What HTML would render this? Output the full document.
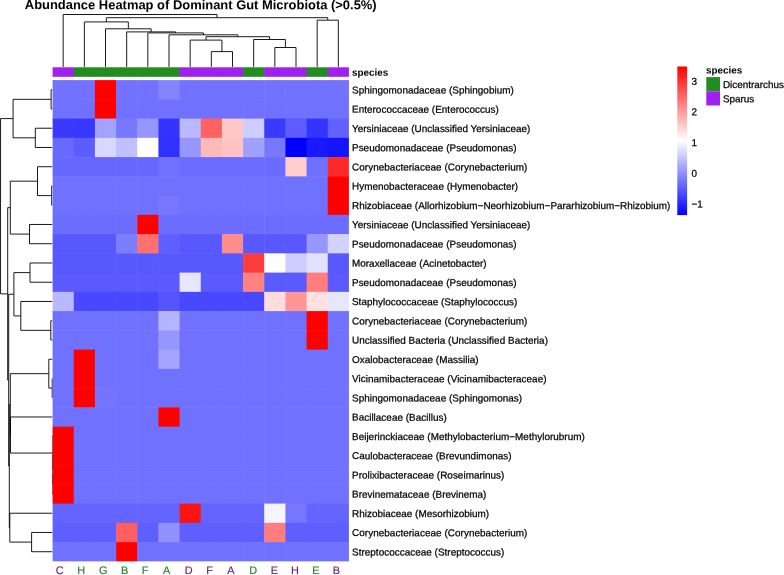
<!DOCTYPE html><html><head><meta charset="utf-8"><title>Heatmap</title>
<style>html,body{margin:0;padding:0;background:#fff}body{width:784px;height:575px;overflow:hidden;position:relative;font-family:"Liberation Sans",sans-serif}svg{position:absolute;left:0;top:0;will-change:transform}text{font-family:"Liberation Sans",sans-serif;text-rendering:geometricPrecision}</style></head><body>
<svg width="784" height="575" viewBox="0 0 784 575">
<defs><linearGradient id="cb" x1="0" y1="1" x2="0" y2="0"><stop offset="0" stop-color="rgb(0,0,255)"/><stop offset="0.5" stop-color="rgb(255,255,255)"/><stop offset="1" stop-color="rgb(255,0,0)"/></linearGradient></defs>
<text transform="translate(24.8,9.1) rotate(0.03)" font-size="12.95" font-weight="bold" fill="#000">Abundance Heatmap of Dominant Gut Microbiota (&gt;0.5%)</text>
<path d="M211.34 66.90V51.60H232.50V66.90M190.17 66.90V40.10H221.92V51.60M274.83 66.90V47.50H296.00V66.90M253.67 66.90V39.50H285.41V47.50M206.05 40.10V36.70H269.54V39.50M169.01 66.90V34.80H237.79V36.70M147.84 66.90V32.90H203.40V34.80M126.68 66.90V31.90H175.62V32.90M105.51 66.90V28.80H151.15V31.90M84.35 66.90V21.90H128.33V28.80M317.16 66.90V20.20H338.33V66.90M106.34 21.90V17.70H327.75V20.20M63.18 66.90V14.50H217.04V17.70" fill="none" stroke="#000" stroke-width="0.9"/>
<path d="M52.30 89.72H51.10V108.97H52.30M52.30 128.22H35.30V147.47H52.30M51.10 99.35H13.10V137.85H35.30M52.30 185.97H51.70V205.22H52.30M52.30 166.72H37.50V195.60H51.70M52.30 224.47H29.50V243.72H52.30M37.50 181.16H10.30V234.10H29.50M52.30 262.98H30.00V282.23H52.30M52.30 320.73H50.80V339.98H52.30M52.30 301.48H20.80V330.35H50.80M30.00 272.60H13.90V315.91H20.80M52.30 378.48H52.20V397.73H52.30M52.30 359.23H48.80V388.10H52.20M52.30 474.73H53.00V493.98H52.30M52.30 455.48H53.00V484.35H53.00M52.30 436.23H53.00V469.91H53.00M52.30 416.98H10.50V453.07H53.00M48.80 373.66H10.30V435.02H10.50M52.30 532.48H31.60V551.73H52.30M52.30 513.23H9.80V542.10H31.60M10.30 404.34H9.30V527.66H9.80M13.90 294.26H8.70V466.00H9.30M10.30 207.63H7.70V380.13H8.70M13.10 118.60H0.55V293.88H7.70" fill="none" stroke="#000" stroke-width="0.9"/>
<rect x="52.60" y="67.3" width="21.66" height="9.50" fill="rgb(160,32,240)"/>
<rect x="73.77" y="67.3" width="21.66" height="9.50" fill="rgb(34,139,34)"/>
<rect x="94.93" y="67.3" width="21.66" height="9.50" fill="rgb(34,139,34)"/>
<rect x="116.09" y="67.3" width="21.66" height="9.50" fill="rgb(34,139,34)"/>
<rect x="137.26" y="67.3" width="21.66" height="9.50" fill="rgb(34,139,34)"/>
<rect x="158.42" y="67.3" width="21.66" height="9.50" fill="rgb(34,139,34)"/>
<rect x="179.59" y="67.3" width="21.66" height="9.50" fill="rgb(160,32,240)"/>
<rect x="200.75" y="67.3" width="21.66" height="9.50" fill="rgb(160,32,240)"/>
<rect x="221.92" y="67.3" width="21.66" height="9.50" fill="rgb(160,32,240)"/>
<rect x="243.08" y="67.3" width="21.66" height="9.50" fill="rgb(34,139,34)"/>
<rect x="264.25" y="67.3" width="21.66" height="9.50" fill="rgb(160,32,240)"/>
<rect x="285.42" y="67.3" width="21.66" height="9.50" fill="rgb(160,32,240)"/>
<rect x="306.58" y="67.3" width="21.66" height="9.50" fill="rgb(34,139,34)"/>
<rect x="327.75" y="67.3" width="21.16" height="9.50" fill="rgb(160,32,240)"/>
<text transform="translate(352.1,75.8) rotate(0.03)" font-size="9.9" font-weight="bold" fill="#000">species</text>
<rect x="52.60" y="80.10" width="21.66" height="19.75" fill="rgb(114,114,255)"/>
<rect x="73.77" y="80.10" width="21.66" height="19.75" fill="rgb(114,114,255)"/>
<rect x="94.93" y="80.10" width="21.66" height="19.75" fill="rgb(255,0,0)"/>
<rect x="116.09" y="80.10" width="21.66" height="19.75" fill="rgb(114,114,255)"/>
<rect x="137.26" y="80.10" width="21.66" height="19.75" fill="rgb(114,114,255)"/>
<rect x="158.42" y="80.10" width="21.66" height="19.75" fill="rgb(132,132,255)"/>
<rect x="179.59" y="80.10" width="21.66" height="19.75" fill="rgb(114,114,255)"/>
<rect x="200.75" y="80.10" width="21.66" height="19.75" fill="rgb(114,114,255)"/>
<rect x="221.92" y="80.10" width="21.66" height="19.75" fill="rgb(114,114,255)"/>
<rect x="243.08" y="80.10" width="21.66" height="19.75" fill="rgb(114,114,255)"/>
<rect x="264.25" y="80.10" width="21.66" height="19.75" fill="rgb(114,114,255)"/>
<rect x="285.42" y="80.10" width="21.66" height="19.75" fill="rgb(114,114,255)"/>
<rect x="306.58" y="80.10" width="21.66" height="19.75" fill="rgb(114,114,255)"/>
<rect x="327.75" y="80.10" width="21.16" height="19.75" fill="rgb(114,114,255)"/>
<rect x="52.60" y="99.35" width="21.66" height="19.75" fill="rgb(113,113,255)"/>
<rect x="73.77" y="99.35" width="21.66" height="19.75" fill="rgb(113,113,255)"/>
<rect x="94.93" y="99.35" width="21.66" height="19.75" fill="rgb(255,0,0)"/>
<rect x="116.09" y="99.35" width="21.66" height="19.75" fill="rgb(113,113,255)"/>
<rect x="137.26" y="99.35" width="21.66" height="19.75" fill="rgb(113,113,255)"/>
<rect x="158.42" y="99.35" width="21.66" height="19.75" fill="rgb(113,113,255)"/>
<rect x="179.59" y="99.35" width="21.66" height="19.75" fill="rgb(113,113,255)"/>
<rect x="200.75" y="99.35" width="21.66" height="19.75" fill="rgb(113,113,255)"/>
<rect x="221.92" y="99.35" width="21.66" height="19.75" fill="rgb(113,113,255)"/>
<rect x="243.08" y="99.35" width="21.66" height="19.75" fill="rgb(113,113,255)"/>
<rect x="264.25" y="99.35" width="21.66" height="19.75" fill="rgb(113,113,255)"/>
<rect x="285.42" y="99.35" width="21.66" height="19.75" fill="rgb(113,113,255)"/>
<rect x="306.58" y="99.35" width="21.66" height="19.75" fill="rgb(113,113,255)"/>
<rect x="327.75" y="99.35" width="21.16" height="19.75" fill="rgb(113,113,255)"/>
<rect x="52.60" y="118.60" width="21.66" height="19.75" fill="rgb(58,58,255)"/>
<rect x="73.77" y="118.60" width="21.66" height="19.75" fill="rgb(55,55,255)"/>
<rect x="94.93" y="118.60" width="21.66" height="19.75" fill="rgb(162,162,255)"/>
<rect x="116.09" y="118.60" width="21.66" height="19.75" fill="rgb(120,120,255)"/>
<rect x="137.26" y="118.60" width="21.66" height="19.75" fill="rgb(150,150,255)"/>
<rect x="158.42" y="118.60" width="21.66" height="19.75" fill="rgb(52,52,255)"/>
<rect x="179.59" y="118.60" width="21.66" height="19.75" fill="rgb(185,185,255)"/>
<rect x="200.75" y="118.60" width="21.66" height="19.75" fill="rgb(255,98,98)"/>
<rect x="221.92" y="118.60" width="21.66" height="19.75" fill="rgb(255,200,200)"/>
<rect x="243.08" y="118.60" width="21.66" height="19.75" fill="rgb(205,205,255)"/>
<rect x="264.25" y="118.60" width="21.66" height="19.75" fill="rgb(58,58,255)"/>
<rect x="285.42" y="118.60" width="21.66" height="19.75" fill="rgb(92,92,255)"/>
<rect x="306.58" y="118.60" width="21.66" height="19.75" fill="rgb(52,52,255)"/>
<rect x="327.75" y="118.60" width="21.16" height="19.75" fill="rgb(97,97,255)"/>
<rect x="52.60" y="137.85" width="21.66" height="19.75" fill="rgb(105,105,255)"/>
<rect x="73.77" y="137.85" width="21.66" height="19.75" fill="rgb(93,93,255)"/>
<rect x="94.93" y="137.85" width="21.66" height="19.75" fill="rgb(216,216,255)"/>
<rect x="116.09" y="137.85" width="21.66" height="19.75" fill="rgb(192,192,255)"/>
<rect x="137.26" y="137.85" width="21.66" height="19.75" fill="rgb(255,255,255)"/>
<rect x="158.42" y="137.85" width="21.66" height="19.75" fill="rgb(48,48,255)"/>
<rect x="179.59" y="137.85" width="21.66" height="19.75" fill="rgb(150,150,255)"/>
<rect x="200.75" y="137.85" width="21.66" height="19.75" fill="rgb(255,185,185)"/>
<rect x="221.92" y="137.85" width="21.66" height="19.75" fill="rgb(255,195,195)"/>
<rect x="243.08" y="137.85" width="21.66" height="19.75" fill="rgb(160,160,255)"/>
<rect x="264.25" y="137.85" width="21.66" height="19.75" fill="rgb(120,120,255)"/>
<rect x="285.42" y="137.85" width="21.66" height="19.75" fill="rgb(0,0,255)"/>
<rect x="306.58" y="137.85" width="21.66" height="19.75" fill="rgb(25,25,255)"/>
<rect x="327.75" y="137.85" width="21.16" height="19.75" fill="rgb(20,20,255)"/>
<rect x="52.60" y="157.10" width="21.66" height="19.75" fill="rgb(103,103,255)"/>
<rect x="73.77" y="157.10" width="21.66" height="19.75" fill="rgb(103,103,255)"/>
<rect x="94.93" y="157.10" width="21.66" height="19.75" fill="rgb(103,103,255)"/>
<rect x="116.09" y="157.10" width="21.66" height="19.75" fill="rgb(103,103,255)"/>
<rect x="137.26" y="157.10" width="21.66" height="19.75" fill="rgb(103,103,255)"/>
<rect x="158.42" y="157.10" width="21.66" height="19.75" fill="rgb(113,113,255)"/>
<rect x="179.59" y="157.10" width="21.66" height="19.75" fill="rgb(107,107,255)"/>
<rect x="200.75" y="157.10" width="21.66" height="19.75" fill="rgb(107,107,255)"/>
<rect x="221.92" y="157.10" width="21.66" height="19.75" fill="rgb(107,107,255)"/>
<rect x="243.08" y="157.10" width="21.66" height="19.75" fill="rgb(107,107,255)"/>
<rect x="264.25" y="157.10" width="21.66" height="19.75" fill="rgb(107,107,255)"/>
<rect x="285.42" y="157.10" width="21.66" height="19.75" fill="rgb(255,205,205)"/>
<rect x="306.58" y="157.10" width="21.66" height="19.75" fill="rgb(112,112,255)"/>
<rect x="327.75" y="157.10" width="21.16" height="19.75" fill="rgb(255,40,40)"/>
<rect x="52.60" y="176.35" width="21.66" height="19.75" fill="rgb(113,113,255)"/>
<rect x="73.77" y="176.35" width="21.66" height="19.75" fill="rgb(113,113,255)"/>
<rect x="94.93" y="176.35" width="21.66" height="19.75" fill="rgb(113,113,255)"/>
<rect x="116.09" y="176.35" width="21.66" height="19.75" fill="rgb(113,113,255)"/>
<rect x="137.26" y="176.35" width="21.66" height="19.75" fill="rgb(113,113,255)"/>
<rect x="158.42" y="176.35" width="21.66" height="19.75" fill="rgb(113,113,255)"/>
<rect x="179.59" y="176.35" width="21.66" height="19.75" fill="rgb(113,113,255)"/>
<rect x="200.75" y="176.35" width="21.66" height="19.75" fill="rgb(113,113,255)"/>
<rect x="221.92" y="176.35" width="21.66" height="19.75" fill="rgb(113,113,255)"/>
<rect x="243.08" y="176.35" width="21.66" height="19.75" fill="rgb(113,113,255)"/>
<rect x="264.25" y="176.35" width="21.66" height="19.75" fill="rgb(113,113,255)"/>
<rect x="285.42" y="176.35" width="21.66" height="19.75" fill="rgb(113,113,255)"/>
<rect x="306.58" y="176.35" width="21.66" height="19.75" fill="rgb(113,113,255)"/>
<rect x="327.75" y="176.35" width="21.16" height="19.75" fill="rgb(255,0,0)"/>
<rect x="52.60" y="195.60" width="21.66" height="19.75" fill="rgb(113,113,255)"/>
<rect x="73.77" y="195.60" width="21.66" height="19.75" fill="rgb(113,113,255)"/>
<rect x="94.93" y="195.60" width="21.66" height="19.75" fill="rgb(113,113,255)"/>
<rect x="116.09" y="195.60" width="21.66" height="19.75" fill="rgb(113,113,255)"/>
<rect x="137.26" y="195.60" width="21.66" height="19.75" fill="rgb(113,113,255)"/>
<rect x="158.42" y="195.60" width="21.66" height="19.75" fill="rgb(118,118,255)"/>
<rect x="179.59" y="195.60" width="21.66" height="19.75" fill="rgb(113,113,255)"/>
<rect x="200.75" y="195.60" width="21.66" height="19.75" fill="rgb(113,113,255)"/>
<rect x="221.92" y="195.60" width="21.66" height="19.75" fill="rgb(113,113,255)"/>
<rect x="243.08" y="195.60" width="21.66" height="19.75" fill="rgb(113,113,255)"/>
<rect x="264.25" y="195.60" width="21.66" height="19.75" fill="rgb(113,113,255)"/>
<rect x="285.42" y="195.60" width="21.66" height="19.75" fill="rgb(113,113,255)"/>
<rect x="306.58" y="195.60" width="21.66" height="19.75" fill="rgb(113,113,255)"/>
<rect x="327.75" y="195.60" width="21.16" height="19.75" fill="rgb(255,0,0)"/>
<rect x="52.60" y="214.85" width="21.66" height="19.75" fill="rgb(108,108,255)"/>
<rect x="73.77" y="214.85" width="21.66" height="19.75" fill="rgb(108,108,255)"/>
<rect x="94.93" y="214.85" width="21.66" height="19.75" fill="rgb(108,108,255)"/>
<rect x="116.09" y="214.85" width="21.66" height="19.75" fill="rgb(108,108,255)"/>
<rect x="137.26" y="214.85" width="21.66" height="19.75" fill="rgb(255,0,0)"/>
<rect x="158.42" y="214.85" width="21.66" height="19.75" fill="rgb(108,108,255)"/>
<rect x="179.59" y="214.85" width="21.66" height="19.75" fill="rgb(108,108,255)"/>
<rect x="200.75" y="214.85" width="21.66" height="19.75" fill="rgb(108,108,255)"/>
<rect x="221.92" y="214.85" width="21.66" height="19.75" fill="rgb(108,108,255)"/>
<rect x="243.08" y="214.85" width="21.66" height="19.75" fill="rgb(108,108,255)"/>
<rect x="264.25" y="214.85" width="21.66" height="19.75" fill="rgb(108,108,255)"/>
<rect x="285.42" y="214.85" width="21.66" height="19.75" fill="rgb(108,108,255)"/>
<rect x="306.58" y="214.85" width="21.66" height="19.75" fill="rgb(108,108,255)"/>
<rect x="327.75" y="214.85" width="21.16" height="19.75" fill="rgb(108,108,255)"/>
<rect x="52.60" y="234.10" width="21.66" height="19.75" fill="rgb(88,88,255)"/>
<rect x="73.77" y="234.10" width="21.66" height="19.75" fill="rgb(88,88,255)"/>
<rect x="94.93" y="234.10" width="21.66" height="19.75" fill="rgb(88,88,255)"/>
<rect x="116.09" y="234.10" width="21.66" height="19.75" fill="rgb(125,125,255)"/>
<rect x="137.26" y="234.10" width="21.66" height="19.75" fill="rgb(255,112,112)"/>
<rect x="158.42" y="234.10" width="21.66" height="19.75" fill="rgb(95,95,255)"/>
<rect x="179.59" y="234.10" width="21.66" height="19.75" fill="rgb(88,88,255)"/>
<rect x="200.75" y="234.10" width="21.66" height="19.75" fill="rgb(88,88,255)"/>
<rect x="221.92" y="234.10" width="21.66" height="19.75" fill="rgb(255,140,140)"/>
<rect x="243.08" y="234.10" width="21.66" height="19.75" fill="rgb(88,88,255)"/>
<rect x="264.25" y="234.10" width="21.66" height="19.75" fill="rgb(88,88,255)"/>
<rect x="285.42" y="234.10" width="21.66" height="19.75" fill="rgb(88,88,255)"/>
<rect x="306.58" y="234.10" width="21.66" height="19.75" fill="rgb(150,150,255)"/>
<rect x="327.75" y="234.10" width="21.16" height="19.75" fill="rgb(210,210,255)"/>
<rect x="52.60" y="253.35" width="21.66" height="19.75" fill="rgb(88,88,255)"/>
<rect x="73.77" y="253.35" width="21.66" height="19.75" fill="rgb(88,88,255)"/>
<rect x="94.93" y="253.35" width="21.66" height="19.75" fill="rgb(88,88,255)"/>
<rect x="116.09" y="253.35" width="21.66" height="19.75" fill="rgb(88,88,255)"/>
<rect x="137.26" y="253.35" width="21.66" height="19.75" fill="rgb(88,88,255)"/>
<rect x="158.42" y="253.35" width="21.66" height="19.75" fill="rgb(88,88,255)"/>
<rect x="179.59" y="253.35" width="21.66" height="19.75" fill="rgb(88,88,255)"/>
<rect x="200.75" y="253.35" width="21.66" height="19.75" fill="rgb(88,88,255)"/>
<rect x="221.92" y="253.35" width="21.66" height="19.75" fill="rgb(88,88,255)"/>
<rect x="243.08" y="253.35" width="21.66" height="19.75" fill="rgb(255,60,60)"/>
<rect x="264.25" y="253.35" width="21.66" height="19.75" fill="rgb(255,252,252)"/>
<rect x="285.42" y="253.35" width="21.66" height="19.75" fill="rgb(205,205,255)"/>
<rect x="306.58" y="253.35" width="21.66" height="19.75" fill="rgb(225,225,255)"/>
<rect x="327.75" y="253.35" width="21.16" height="19.75" fill="rgb(88,88,255)"/>
<rect x="52.60" y="272.60" width="21.66" height="19.75" fill="rgb(90,90,255)"/>
<rect x="73.77" y="272.60" width="21.66" height="19.75" fill="rgb(90,90,255)"/>
<rect x="94.93" y="272.60" width="21.66" height="19.75" fill="rgb(90,90,255)"/>
<rect x="116.09" y="272.60" width="21.66" height="19.75" fill="rgb(90,90,255)"/>
<rect x="137.26" y="272.60" width="21.66" height="19.75" fill="rgb(90,90,255)"/>
<rect x="158.42" y="272.60" width="21.66" height="19.75" fill="rgb(90,90,255)"/>
<rect x="179.59" y="272.60" width="21.66" height="19.75" fill="rgb(230,230,255)"/>
<rect x="200.75" y="272.60" width="21.66" height="19.75" fill="rgb(90,90,255)"/>
<rect x="221.92" y="272.60" width="21.66" height="19.75" fill="rgb(90,90,255)"/>
<rect x="243.08" y="272.60" width="21.66" height="19.75" fill="rgb(255,130,130)"/>
<rect x="264.25" y="272.60" width="21.66" height="19.75" fill="rgb(90,90,255)"/>
<rect x="285.42" y="272.60" width="21.66" height="19.75" fill="rgb(90,90,255)"/>
<rect x="306.58" y="272.60" width="21.66" height="19.75" fill="rgb(255,125,125)"/>
<rect x="327.75" y="272.60" width="21.16" height="19.75" fill="rgb(90,90,255)"/>
<rect x="52.60" y="291.85" width="21.66" height="19.75" fill="rgb(185,185,255)"/>
<rect x="73.77" y="291.85" width="21.66" height="19.75" fill="rgb(72,72,255)"/>
<rect x="94.93" y="291.85" width="21.66" height="19.75" fill="rgb(72,72,255)"/>
<rect x="116.09" y="291.85" width="21.66" height="19.75" fill="rgb(72,72,255)"/>
<rect x="137.26" y="291.85" width="21.66" height="19.75" fill="rgb(72,72,255)"/>
<rect x="158.42" y="291.85" width="21.66" height="19.75" fill="rgb(85,85,255)"/>
<rect x="179.59" y="291.85" width="21.66" height="19.75" fill="rgb(72,72,255)"/>
<rect x="200.75" y="291.85" width="21.66" height="19.75" fill="rgb(72,72,255)"/>
<rect x="221.92" y="291.85" width="21.66" height="19.75" fill="rgb(72,72,255)"/>
<rect x="243.08" y="291.85" width="21.66" height="19.75" fill="rgb(72,72,255)"/>
<rect x="264.25" y="291.85" width="21.66" height="19.75" fill="rgb(255,220,220)"/>
<rect x="285.42" y="291.85" width="21.66" height="19.75" fill="rgb(255,150,150)"/>
<rect x="306.58" y="291.85" width="21.66" height="19.75" fill="rgb(255,225,225)"/>
<rect x="327.75" y="291.85" width="21.16" height="19.75" fill="rgb(230,230,255)"/>
<rect x="52.60" y="311.10" width="21.66" height="19.75" fill="rgb(113,113,255)"/>
<rect x="73.77" y="311.10" width="21.66" height="19.75" fill="rgb(113,113,255)"/>
<rect x="94.93" y="311.10" width="21.66" height="19.75" fill="rgb(113,113,255)"/>
<rect x="116.09" y="311.10" width="21.66" height="19.75" fill="rgb(113,113,255)"/>
<rect x="137.26" y="311.10" width="21.66" height="19.75" fill="rgb(113,113,255)"/>
<rect x="158.42" y="311.10" width="21.66" height="19.75" fill="rgb(180,180,255)"/>
<rect x="179.59" y="311.10" width="21.66" height="19.75" fill="rgb(113,113,255)"/>
<rect x="200.75" y="311.10" width="21.66" height="19.75" fill="rgb(113,113,255)"/>
<rect x="221.92" y="311.10" width="21.66" height="19.75" fill="rgb(113,113,255)"/>
<rect x="243.08" y="311.10" width="21.66" height="19.75" fill="rgb(113,113,255)"/>
<rect x="264.25" y="311.10" width="21.66" height="19.75" fill="rgb(113,113,255)"/>
<rect x="285.42" y="311.10" width="21.66" height="19.75" fill="rgb(113,113,255)"/>
<rect x="306.58" y="311.10" width="21.66" height="19.75" fill="rgb(255,0,0)"/>
<rect x="327.75" y="311.10" width="21.16" height="19.75" fill="rgb(113,113,255)"/>
<rect x="52.60" y="330.35" width="21.66" height="19.75" fill="rgb(113,113,255)"/>
<rect x="73.77" y="330.35" width="21.66" height="19.75" fill="rgb(113,113,255)"/>
<rect x="94.93" y="330.35" width="21.66" height="19.75" fill="rgb(113,113,255)"/>
<rect x="116.09" y="330.35" width="21.66" height="19.75" fill="rgb(113,113,255)"/>
<rect x="137.26" y="330.35" width="21.66" height="19.75" fill="rgb(113,113,255)"/>
<rect x="158.42" y="330.35" width="21.66" height="19.75" fill="rgb(150,150,255)"/>
<rect x="179.59" y="330.35" width="21.66" height="19.75" fill="rgb(113,113,255)"/>
<rect x="200.75" y="330.35" width="21.66" height="19.75" fill="rgb(113,113,255)"/>
<rect x="221.92" y="330.35" width="21.66" height="19.75" fill="rgb(113,113,255)"/>
<rect x="243.08" y="330.35" width="21.66" height="19.75" fill="rgb(113,113,255)"/>
<rect x="264.25" y="330.35" width="21.66" height="19.75" fill="rgb(113,113,255)"/>
<rect x="285.42" y="330.35" width="21.66" height="19.75" fill="rgb(113,113,255)"/>
<rect x="306.58" y="330.35" width="21.66" height="19.75" fill="rgb(255,0,0)"/>
<rect x="327.75" y="330.35" width="21.16" height="19.75" fill="rgb(113,113,255)"/>
<rect x="52.60" y="349.60" width="21.66" height="19.75" fill="rgb(113,113,255)"/>
<rect x="73.77" y="349.60" width="21.66" height="19.75" fill="rgb(255,0,0)"/>
<rect x="94.93" y="349.60" width="21.66" height="19.75" fill="rgb(113,113,255)"/>
<rect x="116.09" y="349.60" width="21.66" height="19.75" fill="rgb(113,113,255)"/>
<rect x="137.26" y="349.60" width="21.66" height="19.75" fill="rgb(113,113,255)"/>
<rect x="158.42" y="349.60" width="21.66" height="19.75" fill="rgb(165,165,255)"/>
<rect x="179.59" y="349.60" width="21.66" height="19.75" fill="rgb(113,113,255)"/>
<rect x="200.75" y="349.60" width="21.66" height="19.75" fill="rgb(113,113,255)"/>
<rect x="221.92" y="349.60" width="21.66" height="19.75" fill="rgb(113,113,255)"/>
<rect x="243.08" y="349.60" width="21.66" height="19.75" fill="rgb(113,113,255)"/>
<rect x="264.25" y="349.60" width="21.66" height="19.75" fill="rgb(113,113,255)"/>
<rect x="285.42" y="349.60" width="21.66" height="19.75" fill="rgb(113,113,255)"/>
<rect x="306.58" y="349.60" width="21.66" height="19.75" fill="rgb(113,113,255)"/>
<rect x="327.75" y="349.60" width="21.16" height="19.75" fill="rgb(113,113,255)"/>
<rect x="52.60" y="368.85" width="21.66" height="19.75" fill="rgb(113,113,255)"/>
<rect x="73.77" y="368.85" width="21.66" height="19.75" fill="rgb(255,0,0)"/>
<rect x="94.93" y="368.85" width="21.66" height="19.75" fill="rgb(113,113,255)"/>
<rect x="116.09" y="368.85" width="21.66" height="19.75" fill="rgb(113,113,255)"/>
<rect x="137.26" y="368.85" width="21.66" height="19.75" fill="rgb(113,113,255)"/>
<rect x="158.42" y="368.85" width="21.66" height="19.75" fill="rgb(113,113,255)"/>
<rect x="179.59" y="368.85" width="21.66" height="19.75" fill="rgb(113,113,255)"/>
<rect x="200.75" y="368.85" width="21.66" height="19.75" fill="rgb(113,113,255)"/>
<rect x="221.92" y="368.85" width="21.66" height="19.75" fill="rgb(113,113,255)"/>
<rect x="243.08" y="368.85" width="21.66" height="19.75" fill="rgb(113,113,255)"/>
<rect x="264.25" y="368.85" width="21.66" height="19.75" fill="rgb(113,113,255)"/>
<rect x="285.42" y="368.85" width="21.66" height="19.75" fill="rgb(113,113,255)"/>
<rect x="306.58" y="368.85" width="21.66" height="19.75" fill="rgb(113,113,255)"/>
<rect x="327.75" y="368.85" width="21.16" height="19.75" fill="rgb(113,113,255)"/>
<rect x="52.60" y="388.10" width="21.66" height="19.75" fill="rgb(113,113,255)"/>
<rect x="73.77" y="388.10" width="21.66" height="19.75" fill="rgb(255,0,0)"/>
<rect x="94.93" y="388.10" width="21.66" height="19.75" fill="rgb(116,116,255)"/>
<rect x="116.09" y="388.10" width="21.66" height="19.75" fill="rgb(113,113,255)"/>
<rect x="137.26" y="388.10" width="21.66" height="19.75" fill="rgb(113,113,255)"/>
<rect x="158.42" y="388.10" width="21.66" height="19.75" fill="rgb(113,113,255)"/>
<rect x="179.59" y="388.10" width="21.66" height="19.75" fill="rgb(113,113,255)"/>
<rect x="200.75" y="388.10" width="21.66" height="19.75" fill="rgb(113,113,255)"/>
<rect x="221.92" y="388.10" width="21.66" height="19.75" fill="rgb(113,113,255)"/>
<rect x="243.08" y="388.10" width="21.66" height="19.75" fill="rgb(113,113,255)"/>
<rect x="264.25" y="388.10" width="21.66" height="19.75" fill="rgb(113,113,255)"/>
<rect x="285.42" y="388.10" width="21.66" height="19.75" fill="rgb(113,113,255)"/>
<rect x="306.58" y="388.10" width="21.66" height="19.75" fill="rgb(113,113,255)"/>
<rect x="327.75" y="388.10" width="21.16" height="19.75" fill="rgb(113,113,255)"/>
<rect x="52.60" y="407.35" width="21.66" height="19.75" fill="rgb(113,113,255)"/>
<rect x="73.77" y="407.35" width="21.66" height="19.75" fill="rgb(113,113,255)"/>
<rect x="94.93" y="407.35" width="21.66" height="19.75" fill="rgb(113,113,255)"/>
<rect x="116.09" y="407.35" width="21.66" height="19.75" fill="rgb(113,113,255)"/>
<rect x="137.26" y="407.35" width="21.66" height="19.75" fill="rgb(113,113,255)"/>
<rect x="158.42" y="407.35" width="21.66" height="19.75" fill="rgb(255,0,0)"/>
<rect x="179.59" y="407.35" width="21.66" height="19.75" fill="rgb(113,113,255)"/>
<rect x="200.75" y="407.35" width="21.66" height="19.75" fill="rgb(113,113,255)"/>
<rect x="221.92" y="407.35" width="21.66" height="19.75" fill="rgb(113,113,255)"/>
<rect x="243.08" y="407.35" width="21.66" height="19.75" fill="rgb(113,113,255)"/>
<rect x="264.25" y="407.35" width="21.66" height="19.75" fill="rgb(113,113,255)"/>
<rect x="285.42" y="407.35" width="21.66" height="19.75" fill="rgb(113,113,255)"/>
<rect x="306.58" y="407.35" width="21.66" height="19.75" fill="rgb(113,113,255)"/>
<rect x="327.75" y="407.35" width="21.16" height="19.75" fill="rgb(113,113,255)"/>
<rect x="52.60" y="426.60" width="21.66" height="19.75" fill="rgb(255,0,0)"/>
<rect x="73.77" y="426.60" width="21.66" height="19.75" fill="rgb(113,113,255)"/>
<rect x="94.93" y="426.60" width="21.66" height="19.75" fill="rgb(113,113,255)"/>
<rect x="116.09" y="426.60" width="21.66" height="19.75" fill="rgb(113,113,255)"/>
<rect x="137.26" y="426.60" width="21.66" height="19.75" fill="rgb(113,113,255)"/>
<rect x="158.42" y="426.60" width="21.66" height="19.75" fill="rgb(113,113,255)"/>
<rect x="179.59" y="426.60" width="21.66" height="19.75" fill="rgb(113,113,255)"/>
<rect x="200.75" y="426.60" width="21.66" height="19.75" fill="rgb(113,113,255)"/>
<rect x="221.92" y="426.60" width="21.66" height="19.75" fill="rgb(113,113,255)"/>
<rect x="243.08" y="426.60" width="21.66" height="19.75" fill="rgb(113,113,255)"/>
<rect x="264.25" y="426.60" width="21.66" height="19.75" fill="rgb(113,113,255)"/>
<rect x="285.42" y="426.60" width="21.66" height="19.75" fill="rgb(113,113,255)"/>
<rect x="306.58" y="426.60" width="21.66" height="19.75" fill="rgb(113,113,255)"/>
<rect x="327.75" y="426.60" width="21.16" height="19.75" fill="rgb(113,113,255)"/>
<rect x="52.60" y="445.85" width="21.66" height="19.75" fill="rgb(255,0,0)"/>
<rect x="73.77" y="445.85" width="21.66" height="19.75" fill="rgb(113,113,255)"/>
<rect x="94.93" y="445.85" width="21.66" height="19.75" fill="rgb(113,113,255)"/>
<rect x="116.09" y="445.85" width="21.66" height="19.75" fill="rgb(113,113,255)"/>
<rect x="137.26" y="445.85" width="21.66" height="19.75" fill="rgb(113,113,255)"/>
<rect x="158.42" y="445.85" width="21.66" height="19.75" fill="rgb(113,113,255)"/>
<rect x="179.59" y="445.85" width="21.66" height="19.75" fill="rgb(113,113,255)"/>
<rect x="200.75" y="445.85" width="21.66" height="19.75" fill="rgb(113,113,255)"/>
<rect x="221.92" y="445.85" width="21.66" height="19.75" fill="rgb(113,113,255)"/>
<rect x="243.08" y="445.85" width="21.66" height="19.75" fill="rgb(113,113,255)"/>
<rect x="264.25" y="445.85" width="21.66" height="19.75" fill="rgb(113,113,255)"/>
<rect x="285.42" y="445.85" width="21.66" height="19.75" fill="rgb(113,113,255)"/>
<rect x="306.58" y="445.85" width="21.66" height="19.75" fill="rgb(113,113,255)"/>
<rect x="327.75" y="445.85" width="21.16" height="19.75" fill="rgb(113,113,255)"/>
<rect x="52.60" y="465.10" width="21.66" height="19.75" fill="rgb(255,0,0)"/>
<rect x="73.77" y="465.10" width="21.66" height="19.75" fill="rgb(113,113,255)"/>
<rect x="94.93" y="465.10" width="21.66" height="19.75" fill="rgb(113,113,255)"/>
<rect x="116.09" y="465.10" width="21.66" height="19.75" fill="rgb(113,113,255)"/>
<rect x="137.26" y="465.10" width="21.66" height="19.75" fill="rgb(113,113,255)"/>
<rect x="158.42" y="465.10" width="21.66" height="19.75" fill="rgb(113,113,255)"/>
<rect x="179.59" y="465.10" width="21.66" height="19.75" fill="rgb(113,113,255)"/>
<rect x="200.75" y="465.10" width="21.66" height="19.75" fill="rgb(113,113,255)"/>
<rect x="221.92" y="465.10" width="21.66" height="19.75" fill="rgb(113,113,255)"/>
<rect x="243.08" y="465.10" width="21.66" height="19.75" fill="rgb(113,113,255)"/>
<rect x="264.25" y="465.10" width="21.66" height="19.75" fill="rgb(113,113,255)"/>
<rect x="285.42" y="465.10" width="21.66" height="19.75" fill="rgb(113,113,255)"/>
<rect x="306.58" y="465.10" width="21.66" height="19.75" fill="rgb(113,113,255)"/>
<rect x="327.75" y="465.10" width="21.16" height="19.75" fill="rgb(113,113,255)"/>
<rect x="52.60" y="484.35" width="21.66" height="19.75" fill="rgb(255,0,0)"/>
<rect x="73.77" y="484.35" width="21.66" height="19.75" fill="rgb(113,113,255)"/>
<rect x="94.93" y="484.35" width="21.66" height="19.75" fill="rgb(113,113,255)"/>
<rect x="116.09" y="484.35" width="21.66" height="19.75" fill="rgb(113,113,255)"/>
<rect x="137.26" y="484.35" width="21.66" height="19.75" fill="rgb(113,113,255)"/>
<rect x="158.42" y="484.35" width="21.66" height="19.75" fill="rgb(113,113,255)"/>
<rect x="179.59" y="484.35" width="21.66" height="19.75" fill="rgb(113,113,255)"/>
<rect x="200.75" y="484.35" width="21.66" height="19.75" fill="rgb(113,113,255)"/>
<rect x="221.92" y="484.35" width="21.66" height="19.75" fill="rgb(113,113,255)"/>
<rect x="243.08" y="484.35" width="21.66" height="19.75" fill="rgb(113,113,255)"/>
<rect x="264.25" y="484.35" width="21.66" height="19.75" fill="rgb(113,113,255)"/>
<rect x="285.42" y="484.35" width="21.66" height="19.75" fill="rgb(113,113,255)"/>
<rect x="306.58" y="484.35" width="21.66" height="19.75" fill="rgb(113,113,255)"/>
<rect x="327.75" y="484.35" width="21.16" height="19.75" fill="rgb(113,113,255)"/>
<rect x="52.60" y="503.60" width="21.66" height="19.75" fill="rgb(100,100,255)"/>
<rect x="73.77" y="503.60" width="21.66" height="19.75" fill="rgb(100,100,255)"/>
<rect x="94.93" y="503.60" width="21.66" height="19.75" fill="rgb(100,100,255)"/>
<rect x="116.09" y="503.60" width="21.66" height="19.75" fill="rgb(100,100,255)"/>
<rect x="137.26" y="503.60" width="21.66" height="19.75" fill="rgb(100,100,255)"/>
<rect x="158.42" y="503.60" width="21.66" height="19.75" fill="rgb(100,100,255)"/>
<rect x="179.59" y="503.60" width="21.66" height="19.75" fill="rgb(255,20,20)"/>
<rect x="200.75" y="503.60" width="21.66" height="19.75" fill="rgb(100,100,255)"/>
<rect x="221.92" y="503.60" width="21.66" height="19.75" fill="rgb(100,100,255)"/>
<rect x="243.08" y="503.60" width="21.66" height="19.75" fill="rgb(100,100,255)"/>
<rect x="264.25" y="503.60" width="21.66" height="19.75" fill="rgb(245,245,255)"/>
<rect x="285.42" y="503.60" width="21.66" height="19.75" fill="rgb(118,118,255)"/>
<rect x="306.58" y="503.60" width="21.66" height="19.75" fill="rgb(100,100,255)"/>
<rect x="327.75" y="503.60" width="21.16" height="19.75" fill="rgb(100,100,255)"/>
<rect x="52.60" y="522.85" width="21.66" height="19.75" fill="rgb(95,95,255)"/>
<rect x="73.77" y="522.85" width="21.66" height="19.75" fill="rgb(95,95,255)"/>
<rect x="94.93" y="522.85" width="21.66" height="19.75" fill="rgb(95,95,255)"/>
<rect x="116.09" y="522.85" width="21.66" height="19.75" fill="rgb(255,95,95)"/>
<rect x="137.26" y="522.85" width="21.66" height="19.75" fill="rgb(95,95,255)"/>
<rect x="158.42" y="522.85" width="21.66" height="19.75" fill="rgb(145,145,255)"/>
<rect x="179.59" y="522.85" width="21.66" height="19.75" fill="rgb(95,95,255)"/>
<rect x="200.75" y="522.85" width="21.66" height="19.75" fill="rgb(95,95,255)"/>
<rect x="221.92" y="522.85" width="21.66" height="19.75" fill="rgb(95,95,255)"/>
<rect x="243.08" y="522.85" width="21.66" height="19.75" fill="rgb(95,95,255)"/>
<rect x="264.25" y="522.85" width="21.66" height="19.75" fill="rgb(255,125,125)"/>
<rect x="285.42" y="522.85" width="21.66" height="19.75" fill="rgb(95,95,255)"/>
<rect x="306.58" y="522.85" width="21.66" height="19.75" fill="rgb(95,95,255)"/>
<rect x="327.75" y="522.85" width="21.16" height="19.75" fill="rgb(95,95,255)"/>
<rect x="52.60" y="542.10" width="21.66" height="19.25" fill="rgb(113,113,255)"/>
<rect x="73.77" y="542.10" width="21.66" height="19.25" fill="rgb(113,113,255)"/>
<rect x="94.93" y="542.10" width="21.66" height="19.25" fill="rgb(113,113,255)"/>
<rect x="116.09" y="542.10" width="21.66" height="19.25" fill="rgb(255,0,0)"/>
<rect x="137.26" y="542.10" width="21.66" height="19.25" fill="rgb(113,113,255)"/>
<rect x="158.42" y="542.10" width="21.66" height="19.25" fill="rgb(113,113,255)"/>
<rect x="179.59" y="542.10" width="21.66" height="19.25" fill="rgb(113,113,255)"/>
<rect x="200.75" y="542.10" width="21.66" height="19.25" fill="rgb(113,113,255)"/>
<rect x="221.92" y="542.10" width="21.66" height="19.25" fill="rgb(113,113,255)"/>
<rect x="243.08" y="542.10" width="21.66" height="19.25" fill="rgb(113,113,255)"/>
<rect x="264.25" y="542.10" width="21.66" height="19.25" fill="rgb(113,113,255)"/>
<rect x="285.42" y="542.10" width="21.66" height="19.25" fill="rgb(113,113,255)"/>
<rect x="306.58" y="542.10" width="21.66" height="19.25" fill="rgb(113,113,255)"/>
<rect x="327.75" y="542.10" width="21.16" height="19.25" fill="rgb(113,113,255)"/>
<text class="rl" transform="translate(352.0,93.38) rotate(0.03)" font-size="9.92" fill="#000" stroke="#000" stroke-width="0.25" textLength="161.81" lengthAdjust="spacing">Sphingomonadaceae (Sphingobium)</text>
<text class="rl" transform="translate(352.0,112.62) rotate(0.03)" font-size="9.92" fill="#000" stroke="#000" stroke-width="0.25" textLength="146.92" lengthAdjust="spacing">Enterococcaceae (Enterococcus)</text>
<text class="rl" transform="translate(352.0,131.88) rotate(0.03)" font-size="9.92" fill="#000" stroke="#000" stroke-width="0.25" textLength="178.36" lengthAdjust="spacing">Yersiniaceae (Unclassified Yersiniaceae)</text>
<text class="rl" transform="translate(352.0,151.12) rotate(0.03)" font-size="9.92" fill="#000" stroke="#000" stroke-width="0.25" textLength="164.56" lengthAdjust="spacing">Pseudomonadaceae (Pseudomonas)</text>
<text class="rl" transform="translate(352.0,170.38) rotate(0.03)" font-size="9.92" fill="#000" stroke="#000" stroke-width="0.25" textLength="175.34" lengthAdjust="spacing">Corynebacteriaceae (Corynebacterium)</text>
<text class="rl" transform="translate(352.0,189.62) rotate(0.03)" font-size="9.92" fill="#000" stroke="#000" stroke-width="0.25" textLength="166.19" lengthAdjust="spacing">Hymenobacteraceae (Hymenobacter)</text>
<text class="rl" transform="translate(352.0,208.88) rotate(0.03)" font-size="9.92" fill="#000" stroke="#000" stroke-width="0.25" textLength="318.28" lengthAdjust="spacing">Rhizobiaceae (Allorhizobium−Neorhizobium−Pararhizobium−Rhizobium)</text>
<text class="rl" transform="translate(352.0,228.12) rotate(0.03)" font-size="9.92" fill="#000" stroke="#000" stroke-width="0.25" textLength="178.36" lengthAdjust="spacing">Yersiniaceae (Unclassified Yersiniaceae)</text>
<text class="rl" transform="translate(352.0,247.38) rotate(0.03)" font-size="9.92" fill="#000" stroke="#000" stroke-width="0.25" textLength="164.56" lengthAdjust="spacing">Pseudomonadaceae (Pseudomonas)</text>
<text class="rl" transform="translate(352.0,266.62) rotate(0.03)" font-size="9.92" fill="#000" stroke="#000" stroke-width="0.25" textLength="134.66" lengthAdjust="spacing">Moraxellaceae (Acinetobacter)</text>
<text class="rl" transform="translate(352.0,285.88) rotate(0.03)" font-size="9.92" fill="#000" stroke="#000" stroke-width="0.25" textLength="164.56" lengthAdjust="spacing">Pseudomonadaceae (Pseudomonas)</text>
<text class="rl" transform="translate(352.0,305.12) rotate(0.03)" font-size="9.92" fill="#000" stroke="#000" stroke-width="0.25" textLength="165.26" lengthAdjust="spacing">Staphylococcaceae (Staphylococcus)</text>
<text class="rl" transform="translate(352.0,324.38) rotate(0.03)" font-size="9.92" fill="#000" stroke="#000" stroke-width="0.25" textLength="175.34" lengthAdjust="spacing">Corynebacteriaceae (Corynebacterium)</text>
<text class="rl" transform="translate(352.0,343.62) rotate(0.03)" font-size="9.92" fill="#000" stroke="#000" stroke-width="0.25" textLength="195.96" lengthAdjust="spacing">Unclassified Bacteria (Unclassified Bacteria)</text>
<text class="rl" transform="translate(352.0,362.88) rotate(0.03)" font-size="9.92" fill="#000" stroke="#000" stroke-width="0.25" textLength="126.53" lengthAdjust="spacing">Oxalobacteraceae (Massilia)</text>
<text class="rl" transform="translate(352.0,382.12) rotate(0.03)" font-size="9.92" fill="#000" stroke="#000" stroke-width="0.25" textLength="194.51" lengthAdjust="spacing">Vicinamibacteraceae (Vicinamibacteraceae)</text>
<text class="rl" transform="translate(352.0,401.38) rotate(0.03)" font-size="9.92" fill="#000" stroke="#000" stroke-width="0.25" textLength="170.08" lengthAdjust="spacing">Sphingomonadaceae (Sphingomonas)</text>
<text class="rl" transform="translate(352.0,420.62) rotate(0.03)" font-size="9.92" fill="#000" stroke="#000" stroke-width="0.25" textLength="94.76" lengthAdjust="spacing">Bacillaceae (Bacillus)</text>
<text class="rl" transform="translate(352.0,439.88) rotate(0.03)" font-size="9.92" fill="#000" stroke="#000" stroke-width="0.25" textLength="232.82" lengthAdjust="spacing">Beijerinckiaceae (Methylobacterium−Methylorubrum)</text>
<text class="rl" transform="translate(352.0,459.12) rotate(0.03)" font-size="9.92" fill="#000" stroke="#000" stroke-width="0.25" textLength="159.59" lengthAdjust="spacing">Caulobacteraceae (Brevundimonas)</text>
<text class="rl" transform="translate(352.0,478.38) rotate(0.03)" font-size="9.92" fill="#000" stroke="#000" stroke-width="0.25" textLength="152.41" lengthAdjust="spacing">Prolixibacteraceae (Roseimarinus)</text>
<text class="rl" transform="translate(352.0,497.62) rotate(0.03)" font-size="9.92" fill="#000" stroke="#000" stroke-width="0.25" textLength="134.40" lengthAdjust="spacing">Brevinemataceae (Brevinema)</text>
<text class="rl" transform="translate(352.0,516.88) rotate(0.03)" font-size="9.92" fill="#000" stroke="#000" stroke-width="0.25" textLength="137.15" lengthAdjust="spacing">Rhizobiaceae (Mesorhizobium)</text>
<text class="rl" transform="translate(352.0,536.12) rotate(0.03)" font-size="9.92" fill="#000" stroke="#000" stroke-width="0.25" textLength="175.34" lengthAdjust="spacing">Corynebacteriaceae (Corynebacterium)</text>
<text class="rl" transform="translate(352.0,555.38) rotate(0.03)" font-size="9.92" fill="#000" stroke="#000" stroke-width="0.25" textLength="152.42" lengthAdjust="spacing">Streptococcaceae (Streptococcus)</text>
<text transform="translate(59.80,574.0) rotate(0.03)" font-size="10.9" text-anchor="middle" fill="rgb(96,30,110)" stroke="rgb(96,30,110)" stroke-width="0.15">C</text>
<text transform="translate(81.10,574.0) rotate(0.03)" font-size="10.9" text-anchor="middle" fill="rgb(38,128,38)" stroke="rgb(38,128,38)" stroke-width="0.15">H</text>
<text transform="translate(103.20,574.0) rotate(0.03)" font-size="10.9" text-anchor="middle" fill="rgb(38,128,38)" stroke="rgb(38,128,38)" stroke-width="0.15">G</text>
<text transform="translate(124.70,574.0) rotate(0.03)" font-size="10.9" text-anchor="middle" fill="rgb(38,128,38)" stroke="rgb(38,128,38)" stroke-width="0.15">B</text>
<text transform="translate(145.20,574.0) rotate(0.03)" font-size="10.9" text-anchor="middle" fill="rgb(38,128,38)" stroke="rgb(38,128,38)" stroke-width="0.15">F</text>
<text transform="translate(166.70,574.0) rotate(0.03)" font-size="10.9" text-anchor="middle" fill="rgb(38,128,38)" stroke="rgb(38,128,38)" stroke-width="0.15">A</text>
<text transform="translate(188.70,574.0) rotate(0.03)" font-size="10.9" text-anchor="middle" fill="rgb(96,30,110)" stroke="rgb(96,30,110)" stroke-width="0.15">D</text>
<text transform="translate(209.50,574.0) rotate(0.03)" font-size="10.9" text-anchor="middle" fill="rgb(96,30,110)" stroke="rgb(96,30,110)" stroke-width="0.15">F</text>
<text transform="translate(230.90,574.0) rotate(0.03)" font-size="10.9" text-anchor="middle" fill="rgb(96,30,110)" stroke="rgb(96,30,110)" stroke-width="0.15">A</text>
<text transform="translate(253.20,574.0) rotate(0.03)" font-size="10.9" text-anchor="middle" fill="rgb(38,128,38)" stroke="rgb(38,128,38)" stroke-width="0.15">D</text>
<text transform="translate(274.30,574.0) rotate(0.03)" font-size="10.9" text-anchor="middle" fill="rgb(96,30,110)" stroke="rgb(96,30,110)" stroke-width="0.15">E</text>
<text transform="translate(295.00,574.0) rotate(0.03)" font-size="10.9" text-anchor="middle" fill="rgb(96,30,110)" stroke="rgb(96,30,110)" stroke-width="0.15">H</text>
<text transform="translate(315.90,574.0) rotate(0.03)" font-size="10.9" text-anchor="middle" fill="rgb(38,128,38)" stroke="rgb(38,128,38)" stroke-width="0.15">E</text>
<text transform="translate(336.40,574.0) rotate(0.03)" font-size="10.9" text-anchor="middle" fill="rgb(96,30,110)" stroke="rgb(96,30,110)" stroke-width="0.15">B</text>
<rect x="677.3" y="66.5" width="9.8" height="148.6" fill="url(#cb)"/>
<text transform="translate(691.5,84.75) rotate(0.03)" font-size="9.92" fill="#000" stroke="#000" stroke-width="0.25">3</text>
<text transform="translate(691.5,115.25) rotate(0.03)" font-size="9.92" fill="#000" stroke="#000" stroke-width="0.25">2</text>
<text transform="translate(691.5,146.05) rotate(0.03)" font-size="9.92" fill="#000" stroke="#000" stroke-width="0.25">1</text>
<text transform="translate(691.5,176.65) rotate(0.03)" font-size="9.92" fill="#000" stroke="#000" stroke-width="0.25">0</text>
<text transform="translate(691.5,207.55) rotate(0.03)" font-size="9.92" fill="#000" stroke="#000" stroke-width="0.25">−1</text>
<text transform="translate(706.0,73.5) rotate(0.03)" font-size="9.9" font-weight="bold" fill="#000">species</text>
<rect x="706.3" y="77.1" width="13.7" height="14.2" fill="rgb(34,139,34)"/>
<rect x="706.3" y="91.3" width="13.7" height="14.2" fill="rgb(160,32,240)"/>
<text transform="translate(722.9,88.0) rotate(0.03)" font-size="9.92" fill="#000" stroke="#000" stroke-width="0.25">Dicentrarchus</text>
<text transform="translate(722.9,102.2) rotate(0.03)" font-size="9.92" fill="#000" stroke="#000" stroke-width="0.25">Sparus</text>
</svg></body></html>
